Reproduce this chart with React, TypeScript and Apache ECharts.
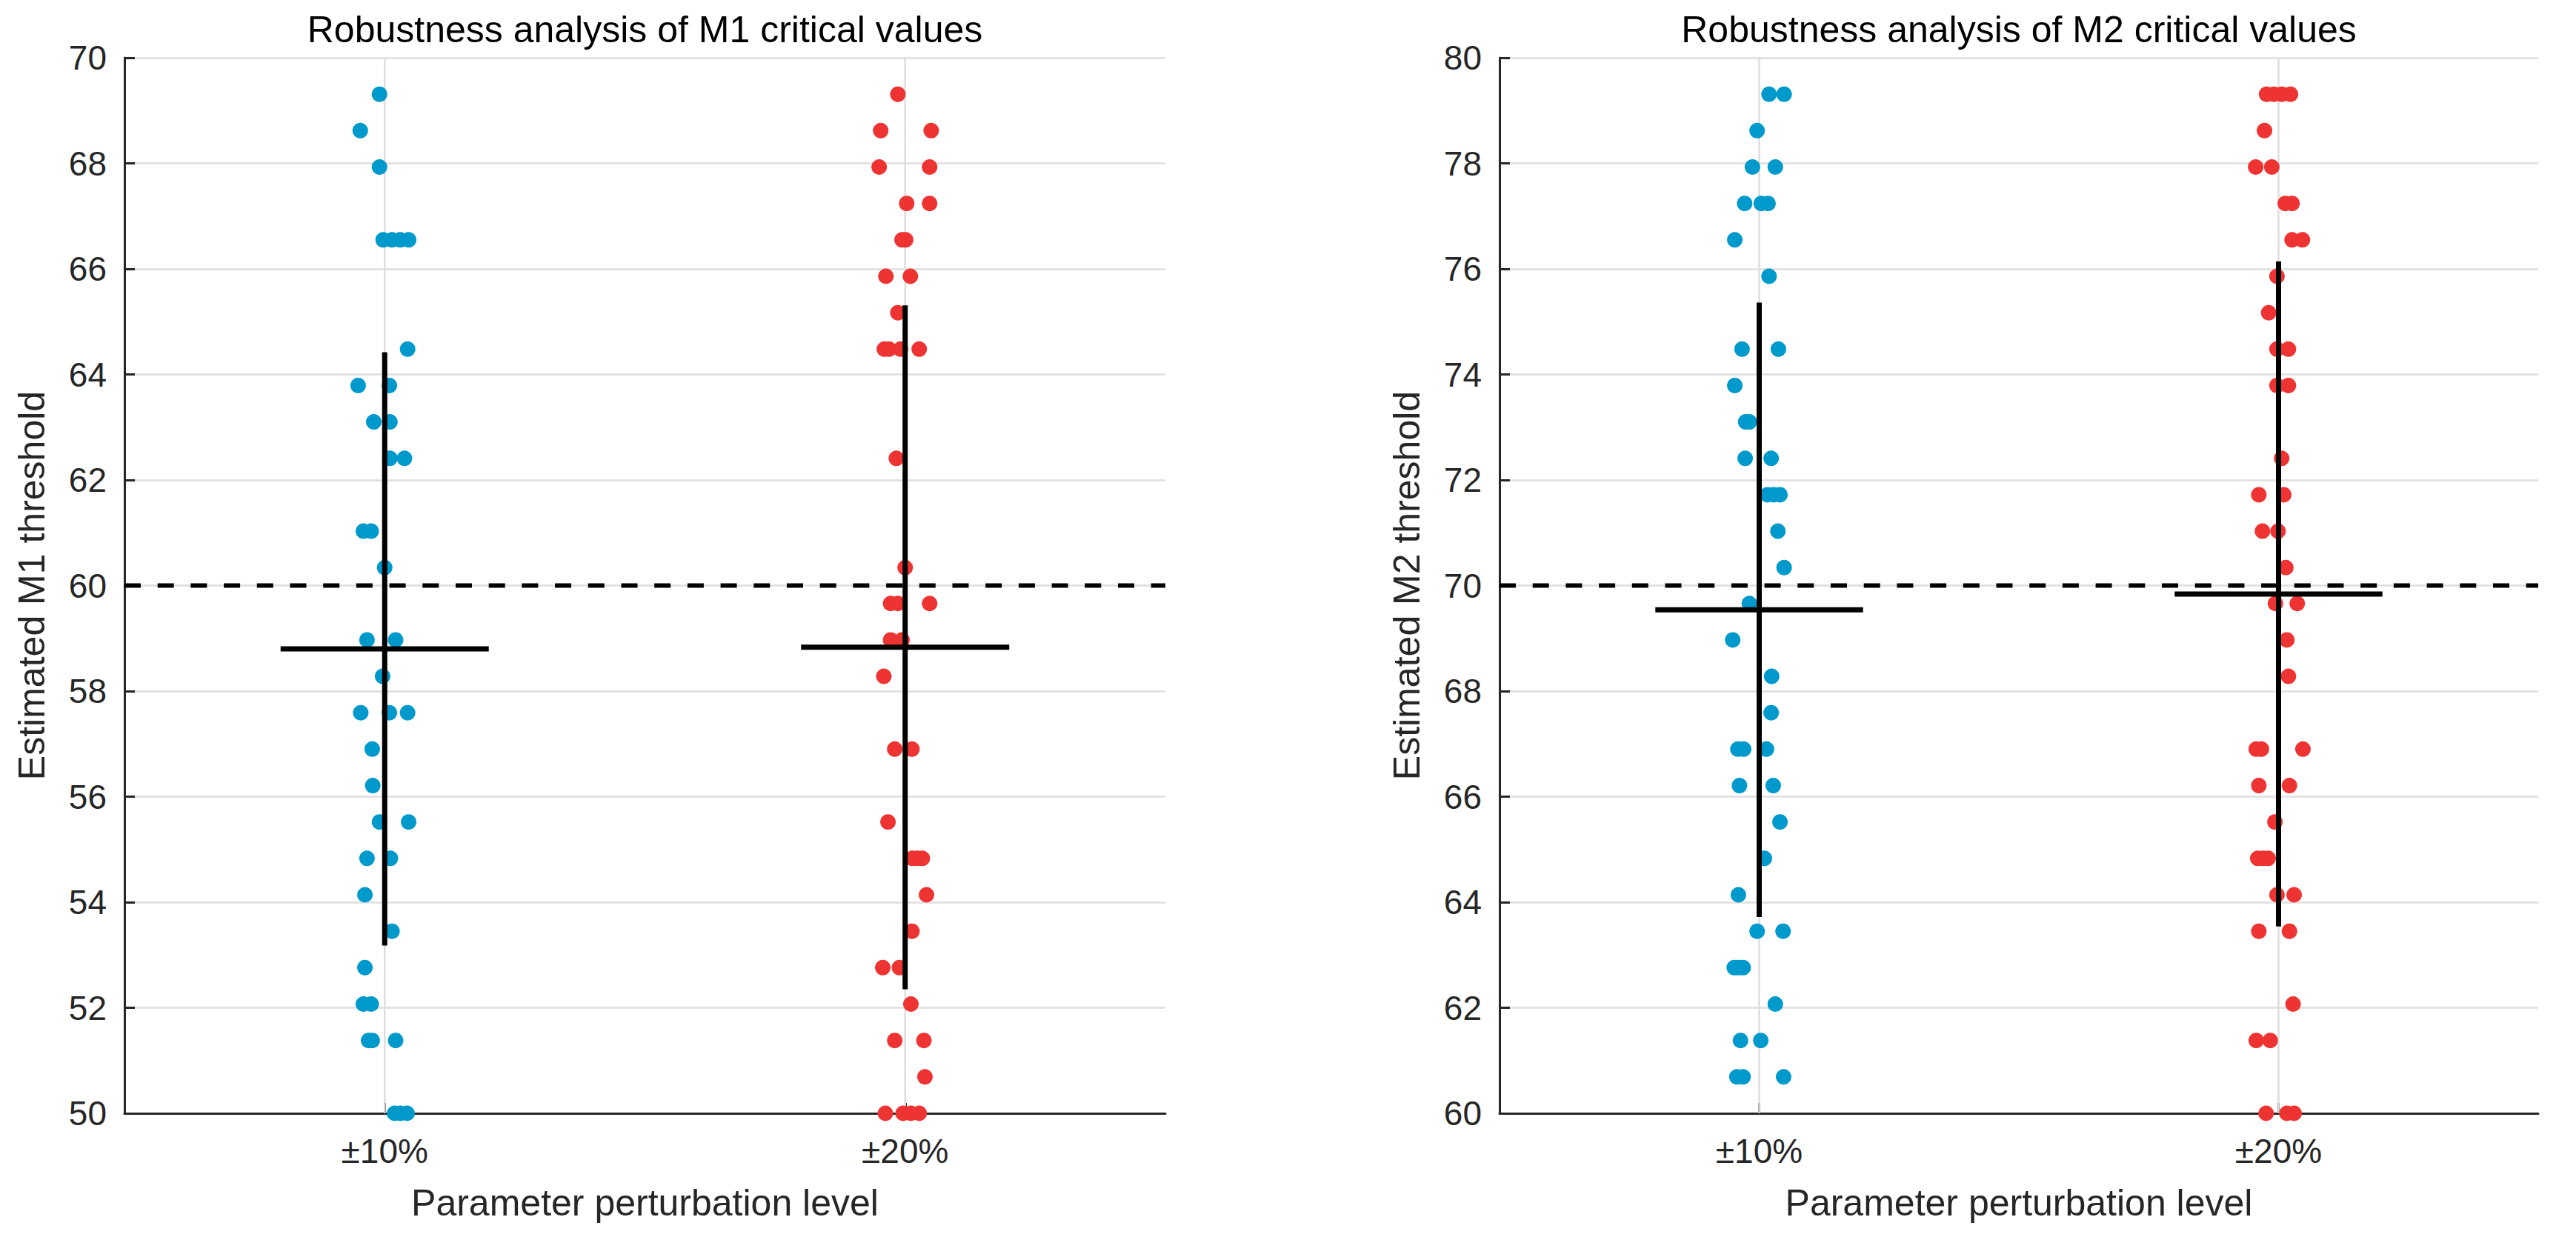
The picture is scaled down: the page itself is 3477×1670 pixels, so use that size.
import React, { useEffect, useRef } from "react";
import * as echarts from "echarts";

const categories = ["±10%", "±20%"];
const panelTitles = [
  "Robustness analysis of M1 critical values",
  "Robustness analysis of M2 critical values",
];
const yAxisNames = ["Estimated M1 threshold", "Estimated M2 threshold"];
const xAxisName = "Parameter perturbation level";
const yMins = [50, 60];
const yMaxs = [70, 80];
const referenceLines = [60, 70];

// M1, ±10% (blue): values and horizontal jitter (x data units)
const m1TenValues = [
  69.31, 68.62, 67.93, 66.55, 66.55, 66.55, 66.55, 64.48, 63.79, 63.79, 63.1, 63.1, 62.41, 62.41,
  61.03, 61.03, 60.34, 58.97, 58.97, 58.28, 57.59, 57.59, 57.59, 56.9, 56.21, 55.52, 55.52, 54.83,
  54.83, 54.14, 53.45, 52.76, 52.07, 52.07, 51.38, 51.38, 51.38, 50.0, 50.0, 50.0,
];
const m1TenJitter = [
  -0.01, -0.047, -0.01, -0.003, 0.014, 0.03, 0.046, 0.044, -0.051, 0.009, -0.021, 0.01, 0.01, 0.038,
  -0.041, -0.026, 0.0, -0.034, 0.021, -0.004, -0.046, 0.009, 0.044, -0.024, -0.023, -0.01, 0.046, -0.034,
  0.011, -0.038, 0.014, -0.038, -0.041, -0.026, -0.031, -0.024, 0.021, 0.019, 0.03, 0.043,
];

// M1, ±20% (red)
const m1TwentyValues = [
  69.31, 68.62, 68.62, 67.93, 67.93, 67.24, 67.24, 66.55, 66.55, 65.86, 65.86, 65.17, 64.48, 64.48,
  64.48, 64.48, 62.41, 60.34, 59.66, 59.66, 59.66, 58.97, 58.97, 58.28, 56.9, 56.9, 55.52, 54.83,
  54.83, 54.83, 54.14, 53.45, 52.76, 52.76, 52.07, 51.38, 51.38, 50.69, 50.0, 50.0, 50.0, 50.0,
];
const m1TwentyJitter = [
  -0.014, -0.047, 0.05, -0.05, 0.047, 0.003, 0.047, -0.006, 0.001, -0.037, 0.01, -0.014, -0.04, -0.031,
  -0.009, 0.027, -0.017, 0.0, -0.028, -0.014, 0.047, -0.028, -0.006, -0.041, -0.02, 0.013, -0.033, 0.014,
  0.024, 0.033, 0.041, 0.013, -0.043, -0.011, 0.011, -0.02, 0.036, 0.038, -0.038, -0.004, 0.011, 0.027,
];

// M2, ±10% (blue)
const m2TenValues = [
  79.31, 79.31, 78.62, 77.93, 77.93, 77.24, 77.24, 77.24, 76.55, 75.86, 74.48, 74.48, 73.79, 73.1,
  73.1, 72.41, 72.41, 71.72, 71.72, 71.72, 71.03, 70.34, 69.66, 68.97, 68.28, 67.59, 66.9, 66.9,
  66.9, 66.21, 66.21, 65.52, 64.83, 64.14, 63.45, 63.45, 62.76, 62.76, 62.76, 62.07, 61.38, 61.38,
  60.69, 60.69, 60.69,
];
const m2TenJitter = [
  0.019, 0.048, -0.004, -0.013, 0.031, -0.028, 0.004, 0.017, -0.047, 0.019, -0.033, 0.037, -0.047, -0.026,
  -0.019, -0.027, 0.023, 0.016, 0.028, 0.04, 0.036, 0.048, -0.019, -0.051, 0.024, 0.023, -0.041, -0.03,
  0.014, -0.038, 0.027, 0.04, 0.01, -0.04, -0.004, 0.046, -0.048, -0.04, -0.031, 0.031, -0.036, 0.003,
  -0.043, -0.031, 0.047,
];

// M2, ±20% (red)
const m2TwentyValues = [
  79.31, 79.31, 79.31, 79.31, 78.62, 77.93, 77.93, 77.24, 77.24, 76.55, 76.55, 75.86, 75.17, 74.48,
  74.48, 73.79, 73.79, 72.41, 71.72, 71.72, 71.03, 71.03, 70.34, 69.66, 69.66, 68.97, 68.28, 66.9,
  66.9, 66.9, 66.21, 66.21, 65.52, 64.83, 64.83, 64.83, 64.14, 64.14, 63.45, 63.45, 62.07, 61.38,
  61.38, 60.0, 60.0, 60.0,
];
const m2TwentyJitter = [
  -0.023, -0.009, 0.006, 0.023, -0.027, -0.044, -0.013, 0.013, 0.026, 0.026, 0.046, -0.003, -0.019, -0.003,
  0.019, -0.003, 0.019, 0.006, -0.038, 0.01, -0.031, -0.001, 0.014, -0.006, 0.036, 0.016, 0.019, -0.043,
  -0.033, 0.047, -0.038, 0.021, -0.007, -0.04, -0.03, -0.02, -0.003, 0.03, -0.038, 0.021, 0.028, -0.043,
  -0.016, -0.024, 0.016, 0.03,
];

// mean and standard deviation per panel, per category
const groupMeans = [
  [58.8, 58.83],
  [69.54, 69.84],
];
const groupSDs = [
  [5.62, 6.48],
  [5.82, 6.3],
];
const meanHalfWidth = 0.2;

const blue = "#0099CC";
const red = "#EE3333";
const axisColor = "#262626";
const gridColor = "#dedede";
const fontFamily = "'Liberation Sans', Arial, Helvetica, sans-serif";

const panels = [
  [
    { values: m1TenValues, jitter: m1TenJitter, color: blue },
    { values: m1TwentyValues, jitter: m1TwentyJitter, color: red },
  ],
  [
    { values: m2TenValues, jitter: m2TenJitter, color: blue },
    { values: m2TwentyValues, jitter: m2TwentyJitter, color: red },
  ],
];

function buildOption() {
  const grids = [
    { left: 168, top: 78, width: 1405, height: 1425 },
    { left: 2024, top: 78, width: 1402, height: 1425 },
  ];
  const xAxes: any[] = [];
  const yAxes: any[] = [];
  const series: any[] = [];

  panels.forEach((groups, p) => {
    xAxes.push({
      type: "value",
      gridIndex: p,
      min: 0.5,
      max: 2.5,
      interval: 0.5,
      axisLine: { show: true, onZero: false, lineStyle: { color: axisColor, width: 3 } },
      axisTick: {
        show: true,
        inside: true,
        length: 14,
        customValues: [1, 2],
        lineStyle: { color: axisColor, width: 3 },
      },
      axisLabel: {
        customValues: [1, 2],
        formatter: (v: number) => (v === 1 ? categories[0] : v === 2 ? categories[1] : ""),
        fontSize: 46,
        color: axisColor,
        fontFamily,
        margin: 28,
      },
      splitLine: { show: false },
      name: xAxisName,
      nameLocation: "middle",
      nameGap: 96,
      nameTextStyle: { fontSize: 50, color: axisColor, fontFamily },
    });
    yAxes.push({
      type: "value",
      gridIndex: p,
      min: yMins[p],
      max: yMaxs[p],
      interval: 2,
      axisLine: { show: true, lineStyle: { color: axisColor, width: 3 } },
      axisTick: { show: true, inside: true, length: 14, lineStyle: { color: axisColor, width: 3 } },
      axisLabel: { fontSize: 46, color: axisColor, fontFamily, margin: 24 },
      splitLine: { show: true, lineStyle: { color: gridColor, width: 2.5 } },
      name: yAxisNames[p],
      nameLocation: "middle",
      nameRotate: 90,
      nameGap: 100,
      nameTextStyle: { fontSize: 50, color: axisColor, fontFamily },
    });

    // vertical grid lines at categories
    [1, 2].forEach((c) => {
      series.push({
        type: "line",
        xAxisIndex: p,
        yAxisIndex: p,
        data: [
          [c, yMins[p]],
          [c, yMaxs[p]],
        ],
        symbol: "none",
        silent: true,
        z: 1,
        lineStyle: { color: gridColor, width: 2.5 },
      });
    });

    groups.forEach((g, ci) => {
      const c = ci + 1;
      series.push({
        type: "scatter",
        xAxisIndex: p,
        yAxisIndex: p,
        clip: false,
        symbol: "circle",
        symbolSize: 21,
        z: 3,
        itemStyle: { color: g.color, opacity: 1 },
        data: g.values.map((v, i) => [c + g.jitter[i], v]),
      });
    });

    // reference dashed line
    series.push({
      type: "line",
      xAxisIndex: p,
      yAxisIndex: p,
      data: [
        [0.5, referenceLines[p]],
        [2.5, referenceLines[p]],
      ],
      symbol: "none",
      silent: true,
      z: 4,
      lineStyle: { color: "#000", width: 6, type: [22, 22.7], cap: "butt" },
    });

    // mean ± SD bars
    [0, 1].forEach((ci) => {
      const c = ci + 1;
      const m = groupMeans[p][ci];
      const sd = groupSDs[p][ci];
      series.push({
        type: "line",
        xAxisIndex: p,
        yAxisIndex: p,
        data: [
          [c, m - sd],
          [c, m + sd],
        ],
        symbol: "none",
        silent: true,
        z: 5,
        lineStyle: { color: "#000", width: 7, cap: "butt" },
      });
      series.push({
        type: "line",
        xAxisIndex: p,
        yAxisIndex: p,
        data: [
          [c - meanHalfWidth, m],
          [c + meanHalfWidth, m],
        ],
        symbol: "none",
        silent: true,
        z: 5,
        lineStyle: { color: "#000", width: 7, cap: "butt" },
      });
    });
  });

  return {
    animation: false,
    backgroundColor: "#ffffff",
    grid: grids,
    xAxis: xAxes,
    yAxis: yAxes,
    series,
    graphic: [
      {
        type: "text",
        x: 168 + 1405 / 2,
        y: 40,
        style: {
          text: panelTitles[0],
          fontSize: 50,
          fontFamily,
          fill: "#000",
          textAlign: "center",
          textVerticalAlign: "middle",
        },
      },
      {
        type: "text",
        x: 2024 + 1402 / 2,
        y: 40,
        style: {
          text: panelTitles[1],
          fontSize: 50,
          fontFamily,
          fill: "#000",
          textAlign: "center",
          textVerticalAlign: "middle",
        },
      },
    ],
  };
}

export default function App() {
  const ref = useRef<HTMLDivElement>(null);
  useEffect(() => {
    if (!ref.current) return;
    const chart = echarts.init(ref.current, undefined, { renderer: "svg" });
    chart.setOption(buildOption() as any);
    return () => chart.dispose();
  }, []);
  return (
    <div
      ref={ref}
      style={{ position: "fixed", left: 0, top: 0, width: 3477, height: 1670, background: "#fff" }}
    />
  );
}
